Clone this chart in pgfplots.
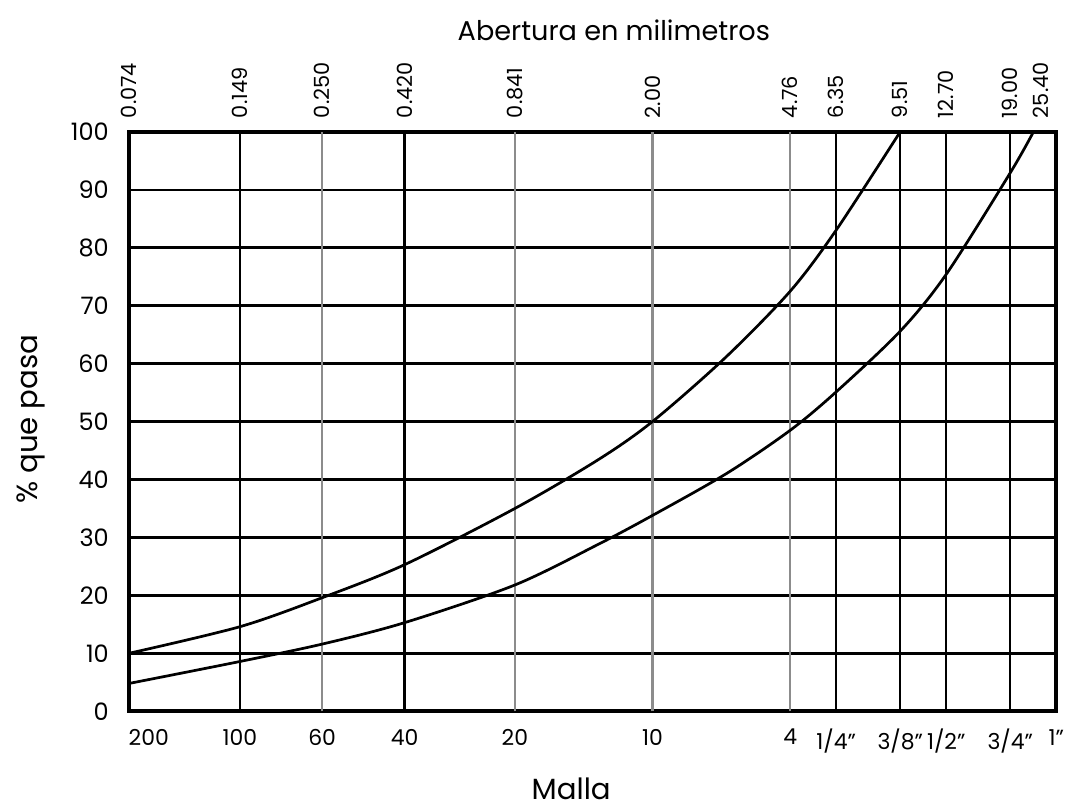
\documentclass[border=0pt]{standalone}
\usepackage{pgfplots}
\pgfplotsset{compat=1.18}
\usepackage{fontspec}
\setmainfont{Poppins}

\pgfplotstableread{
x y
0.074 10.0
0.149 14.6
0.250 19.6
0.420 25.3
0.841 35.0
1.42 43.4
2.00 50.0
3.16 61.0
4.76 72.5
6.35 83.0
9.51 100.0
}\upperdata

\pgfplotstableread{
x y
0.074 4.8
0.149 8.6
0.250 11.6
0.420 15.3
0.841 21.8
1.42 28.8
2.00 33.8
3.20 41.1
4.76 48.5
6.35 55.1
9.51 65.6
12.70 75.4
19.00 92.9
22.0 100.0
}\lowerdata

\begin{document}
\begin{tikzpicture}
\begin{axis}[
  name=main,
  scale only axis,
  width=15.62cm, height=9.76cm,
  xmode=log,
  xmin=0.074, xmax=25.4, ymin=0, ymax=100,
  xtick={0.074,0.149,0.420,6.35,9.51,12.70,19.00,25.40},
  xticklabels={{\rlap{200}},100,40,{1/4"},{3/8"},{1/2"},{3/4"},{1"}},
  extra x ticks={0.250,0.841,2.00,4.76},
  extra x tick labels={60,20,10,4},
  extra x tick style={grid=major, major grid style={black!45, line width=1.1pt}},
  ytick={0,10,...,100},
  grid=major,
  major grid style={black, line width=1.1pt},
  major tick length=0pt,
  axis line style={line width=1.8pt},
  xticklabel style={font=\fontsize{10.5}{12}\selectfont, yshift=-5pt},
  yticklabel style={font=\fontsize{11.5}{13}\selectfont, xshift=-6pt},
  /pgf/number format/assume math mode=true,
  clip=false,
]
\addplot[black, line width=1.3pt, smooth] table[x=x,y=y] {\upperdata};
\addplot[black, line width=1.3pt, smooth] table[x=x,y=y] {\lowerdata};
\path (rel axis cs:-0.1387,-0.1670) rectangle (rel axis cs:1.0129,1.2272);
\node[font=\fontsize{13}{15}\selectfont, anchor=base, inner sep=0pt] at (rel axis cs:0.523,1.157) {Abertura en milimetros};
\node[font=\fontsize{14}{16}\selectfont, anchor=base, inner sep=0pt] at (rel axis cs:0.477,-0.152) {Malla};
\node[font=\fontsize{14}{16}\selectfont, rotate=90] at (rel axis cs:-0.105,0.504) {\% que pasa};
\end{axis}
\begin{axis}[
  scale only axis,
  width=15.62cm, height=9.76cm,
  xmode=log,
  xmin=0.074, xmax=25.4, ymin=0, ymax=100,
  axis x line*=top, axis y line=none,
  xtick={0.074,0.149,0.250,0.420,0.841,2.00,4.76,6.35,9.51,12.70,19.00,25.40},
  xticklabels={0.074,0.149,0.250,0.420,0.841,2.00,4.76,6.35,9.51,12.70,19.00,{\raisebox{4pt}[0pt][0pt]{25.40}}},
  xticklabel style={rotate=90, anchor=west, font=\fontsize{10}{12}\selectfont, xshift=3pt},
  major tick length=0pt,
  axis line style={draw=none},
]
\end{axis}
\end{tikzpicture}
\end{document}
